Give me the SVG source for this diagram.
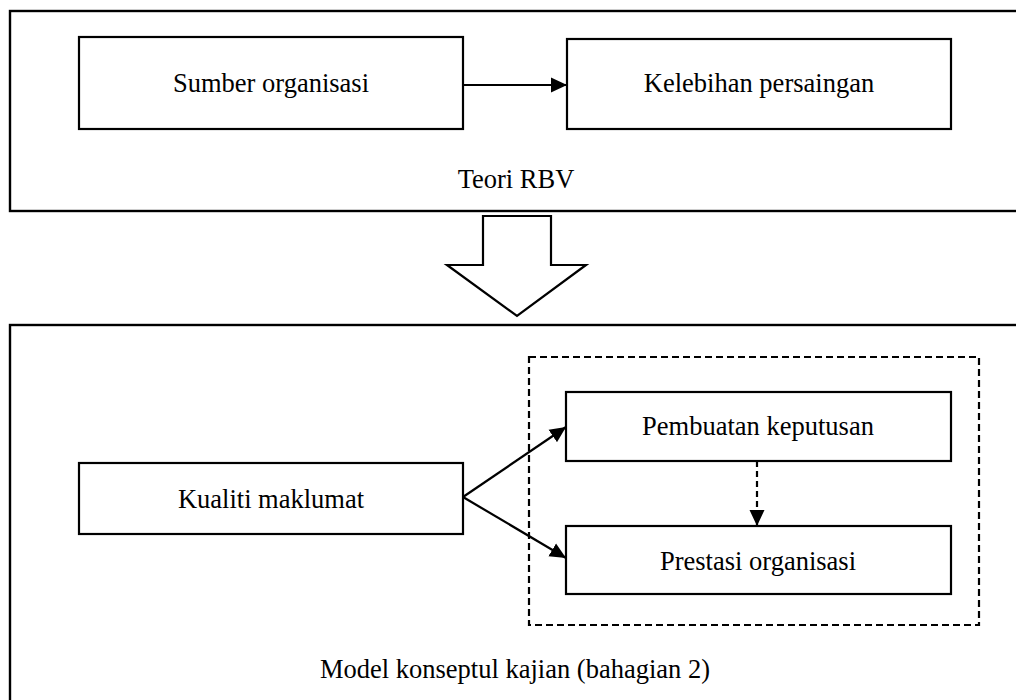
<svg xmlns="http://www.w3.org/2000/svg" width="1016" height="700" viewBox="0 0 1016 700">
  <style>
    .frame { fill: none; stroke: #000; stroke-width: 2.4; }
    .box { fill: #fff; stroke: #000; stroke-width: 2.2; }
    .group { fill: none; stroke: #000; stroke-width: 2.2; stroke-dasharray: 7 4; }
    .label { font-family: "Liberation Serif", "Times New Roman", serif; font-size: 26.5px; fill: #000; text-anchor: middle; }
    .edge { fill: none; stroke: #000; stroke-width: 2.2; }
    .dashed { stroke-dasharray: 6 4; }
  </style>
  <defs>
    <marker id="head" viewBox="0 0 16 16" refX="16" refY="8" markerWidth="16" markerHeight="16" markerUnits="userSpaceOnUse" orient="auto">
      <path d="M0,0.5 L16,8 L0,15.5 Z" fill="#000"/>
    </marker>
  </defs>
  <rect width="1016" height="700" fill="#fff"/>

  <!-- upper panel: RBV theory -->
  <g id="panel-rbv">
    <rect class="frame" x="10" y="11" width="1030" height="200"/>
    <text class="label" x="516" y="188">Teori RBV</text>
  </g>
  <g id="sumber">
    <rect class="box" x="79" y="37" width="384" height="92"/>
    <text class="label" x="271" y="92">Sumber organisasi</text>
  </g>
  <g id="kelebihan">
    <rect class="box" x="567" y="39" width="384" height="90"/>
    <text class="label" x="759" y="92">Kelebihan persaingan</text>
  </g>

  <!-- block arrow between panels -->
  <g id="transition">
    <polygon points="483,216 551,216 551,265 586,265 517,316 447,265 483,265" fill="#fff" stroke="#000" stroke-width="2.2" stroke-linejoin="miter"/>
  </g>

  <!-- lower panel: conceptual model -->
  <g id="panel-model">
    <rect class="frame" x="10" y="325" width="1030" height="400"/>
    <text class="label" x="515" y="678">Model konseptul kajian (bahagian 2)</text>
  </g>
  <g id="outcomes">
    <rect class="group" x="529" y="357" width="450" height="268"/>
  </g>
  <g id="kualiti">
    <rect class="box" x="79" y="463" width="384" height="71"/>
    <text class="label" x="271" y="508">Kualiti maklumat</text>
  </g>
  <g id="pembuatan">
    <rect class="box" x="566" y="392" width="385" height="69"/>
    <text class="label" x="758" y="435">Pembuatan keputusan</text>
  </g>
  <g id="prestasi">
    <rect class="box" x="566" y="526" width="385" height="68"/>
    <text class="label" x="758" y="570">Prestasi organisasi</text>
  </g>

  <g id="connectors">
    <line class="edge" x1="463" y1="85" x2="567" y2="85" marker-end="url(#head)"/>
    <line class="edge" x1="463" y1="497" x2="566" y2="427" marker-end="url(#head)"/>
    <line class="edge" x1="463" y1="497" x2="566" y2="558" marker-end="url(#head)"/>
    <line class="edge dashed" x1="757" y1="461" x2="757" y2="526" marker-end="url(#head)"/>
  </g>
</svg>
